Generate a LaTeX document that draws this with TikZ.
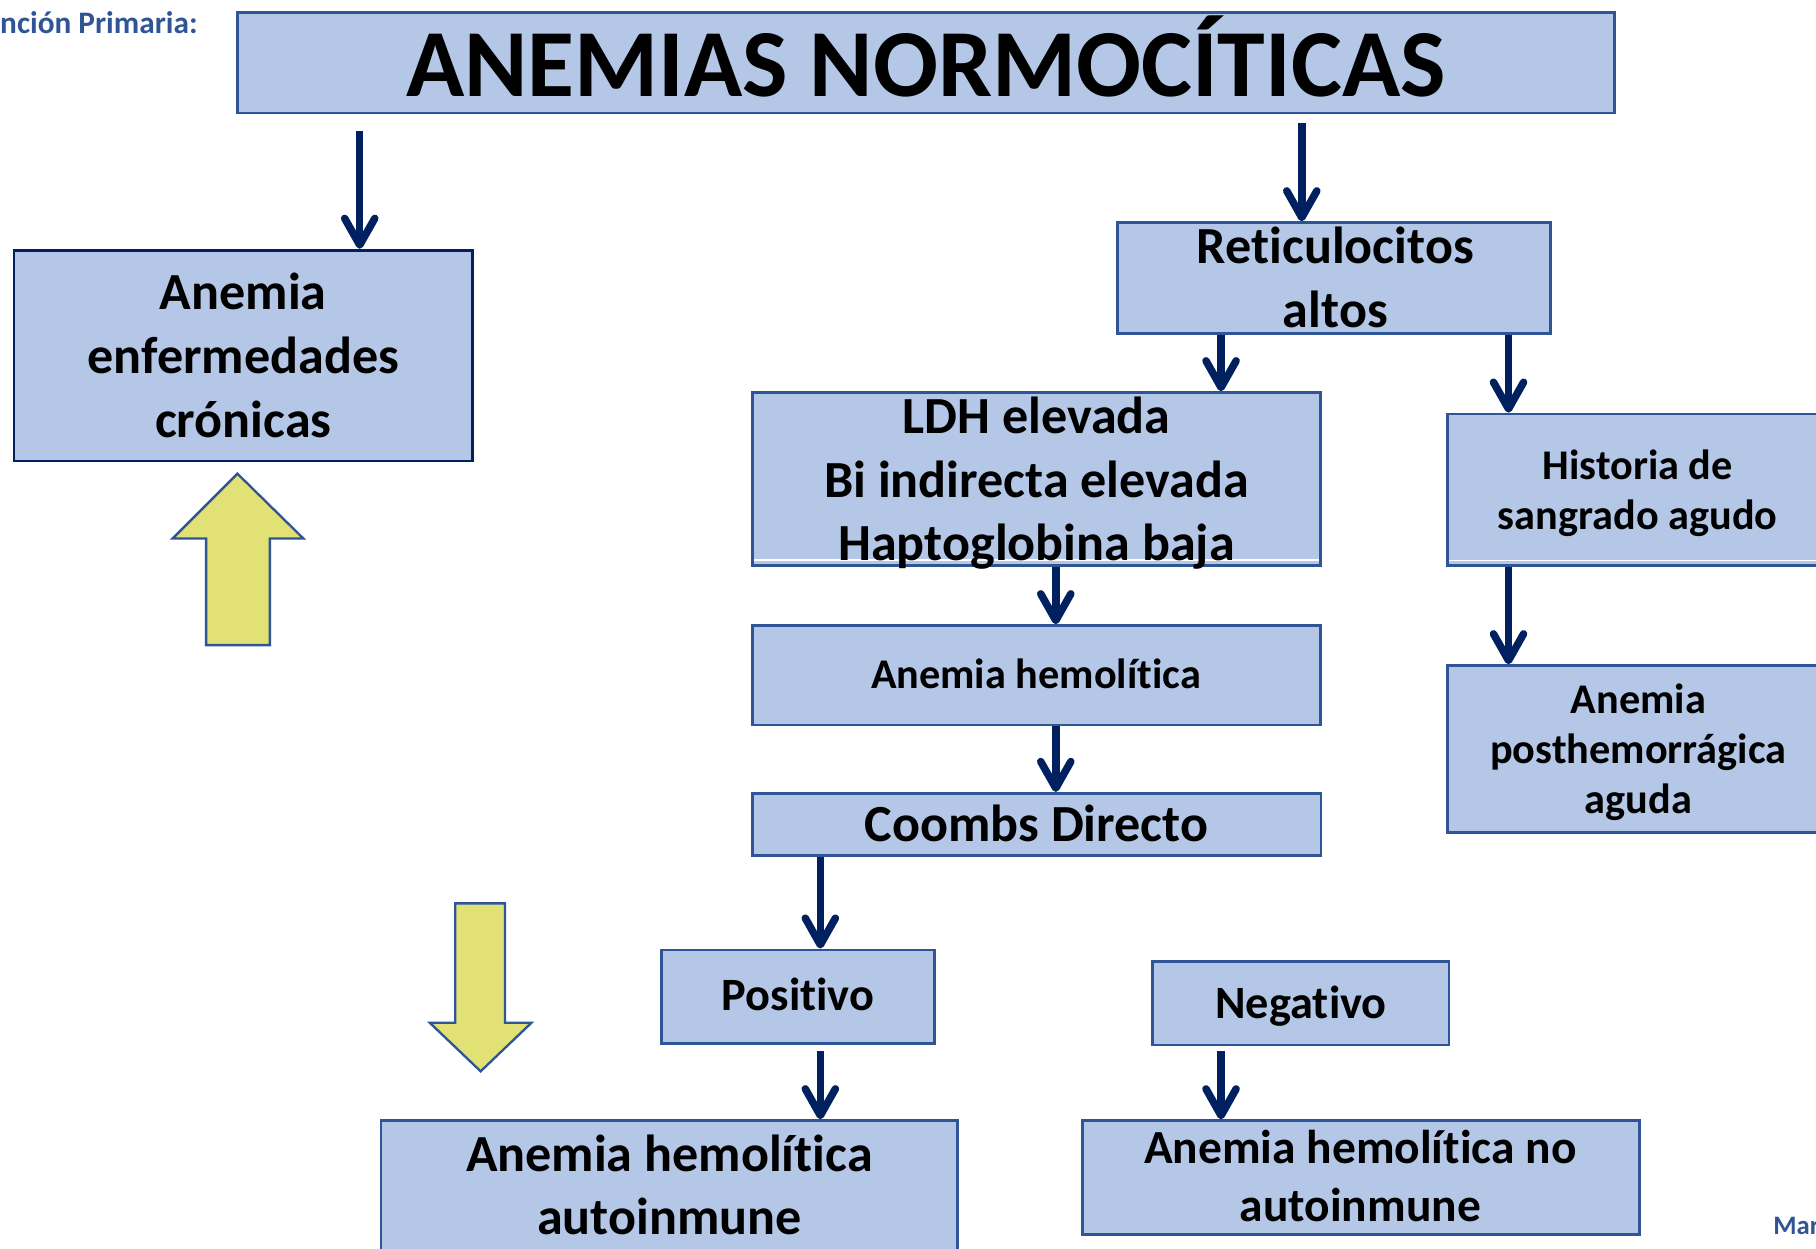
\documentclass[tikz,border=0pt]{standalone}
\usepackage{fontspec}
\setmainfont{Carlito}[Ligatures={NoCommon,NoContextual}]
\usepackage{tikz}
\usetikzlibrary{positioning}
\usetikzlibrary{calc}
\usetikzlibrary{arrows.meta}

\definecolor{boxfill}{RGB}{180,199,231}
\definecolor{boxline}{RGB}{47,85,151}
\definecolor{navy}{RGB}{0,32,96}
\definecolor{lemon}{RGB}{226,225,118}

\newcommand{\szTitle}{\fontsize{83}{99}\selectfont\bfseries}
\newcommand{\szBig}{\fontsize{45}{55}\selectfont\bfseries}
\newcommand{\szMid}{\fontsize{36.5}{43.5}\selectfont\bfseries}
\newcommand{\szPN}{\fontsize{40}{48}\selectfont\bfseries}
\newcommand{\szNo}{\fontsize{41}{50.4}\selectfont\bfseries}
\newcommand{\szNote}{\fontsize{27}{32}\selectfont\bfseries}

\begin{document}
\begin{tikzpicture}[x=1pt,y=-1pt,
  box/.style={draw=boxline, fill=boxfill, line width=2.4pt, inner sep=0pt},
  seam/.style={path picture={\draw[white,line width=1.2pt] ([yshift=4.4pt]path picture bounding box.south west) -- ([yshift=4.4pt]path picture bounding box.south east);}},
  lbl/.style={inner sep=0pt, align=center},
  flow/.style={draw=navy, line width=6.5pt, -{Straight Barb[length=23pt,width=26pt,line cap=round,line join=round]}},
  fat/.style={draw=boxline, fill=lemon, line width=2pt, line join=miter}]
\useasboundingbox (0,0) rectangle (1568,1077.6);

%boxes
\node[box, minimum width=1189pt, minimum height=86.5pt] (title) at (799.5,54.3) {};
\node[box, draw=navy, minimum width=396pt, minimum height=182pt] (cron) at (210.1,307) {};
\node[box, minimum width=374.2pt, minimum height=95.5pt] (reti) at (1151.8,240) {};
\node[box, seam, minimum width=490.6pt, minimum height=149pt] (ldh) at (894.8,413.5) {};
\node[box, seam, minimum width=328pt, minimum height=131pt] (hist) at (1414,423) {};
\node[box, minimum width=490.6pt, minimum height=85.8pt] (hemo) at (894.8,583.1) {};
\node[box, minimum width=328pt, minimum height=143.9pt] (post) at (1414,646.7) {};
\node[box, minimum width=491pt, minimum height=53.8pt] (coombs) at (895,711.9) {};
\node[box, minimum width=235.9pt, minimum height=80.6pt] (pos) at (689,860.5) {};
\node[box, minimum width=255.7pt, minimum height=72pt] (neg) at (1123.2,866.3) {};
\node[box, minimum width=497.7pt, minimum height=114.4pt] (hai) at (577.9,1024.8) {};
\node[box, minimum width=481.1pt, minimum height=98.1pt] (hni) at (1174.9,1016.7) {};

%texts
\node[lbl, anchor=base, font=\szTitle] (titleT) at (799.5,83) {ANEMIAS NORMOCÍTICAS};
\node[lbl, font=\szBig] (cronT) at (210.1,306.7) {Anemia\\enfermedades\\crónicas};
\node[lbl, font=\szBig] (retiT) at (1153,239.3) {Reticulocitos\\altos};
\node[lbl, font=\szBig] (ldhT) at (895,417.3) {LDH elevada\\Bi indirecta elevada\\Haptoglobina baja};
\node[lbl, font=\szMid] (histT) at (1414,425.8) {Historia de\\sangrado agudo};
\node[lbl, anchor=base, font=\szMid] (hemoT) at (894.5,594.3) {Anemia hemolítica};
\node[lbl, font=\szMid] (postT) at (1414.6,649.6) {Anemia\\posthemorrágica\\aguda};
\node[lbl, anchor=base, font=\szBig] (coombsT) at (895,726.7) {Coombs Directo};
\node[lbl, anchor=base, font=\szPN] (posT) at (689,872.9) {Positivo};
\node[lbl, anchor=base, font=\szPN] (negT) at (1123.4,879.2) {Negativo};
\node[lbl, font=\szBig] (haiT) at (578,1023.2) {Anemia hemolítica\\autoinmune};
\node[lbl, font=\szNo] (hniT) at (1174.5,1015.3) {Anemia hemolítica no\\autoinmune};

%cut-off notes
\node[anchor=base west, inner sep=0pt, text=boxline, font=\szNote] (hdr) at (0,29) {nción Primaria:};
\node[anchor=base west, inner sep=0pt, text=boxline, font=\fontsize{23}{28}\selectfont\bfseries] (ftr) at (1531,1066) {Mar};

%arrows
\coordinate (c1) at (310.6,0);
\coordinate (c2) at (1124,0);
\coordinate (c3) at (1054.3,0);
\coordinate (c4) at (1302.5,0);
\coordinate (c5) at (911.6,0);
\coordinate (c6) at (708.3,0);
\draw[flow] ($(title.south -| c1)+(0,14.4)$) -- (cron.north -| c1);
\draw[flow] ($(title.south -| c2)+(0,7.7)$) -- (reti.north -| c2);
\draw[flow] (reti.south -| c3) -- (ldh.north -| c3);
\draw[flow] (reti.south -| c4) -- (hist.north -| c4);
\draw[flow] (ldh.south -| c5) -- (hemo.north -| c5);
\draw[flow] (hist.south -| c4) -- (post.north -| c4);
\draw[flow] (hemo.south -| c5) -- (coombs.north -| c5);
\draw[flow] (coombs.south -| c6) -- (pos.north -| c6);
\draw[flow] ($(pos.south -| c6)+(0,5.8)$) -- (hai.north -| c6);
\draw[flow] ($(neg.south -| c3)+(0,4.3)$) -- (hni.north -| c3);

%yellow block arrows
\draw[fat] (205,409) -- (262,465) -- (233,465) -- (233,557) -- (178,557) -- (178,465) -- (149,465) -- cycle;
\draw[fat] (393,780) -- (436,780) -- (436,883) -- (459,883) -- (415,925) -- (371,883) -- (393,883) -- cycle;
\end{tikzpicture}
\end{document}
